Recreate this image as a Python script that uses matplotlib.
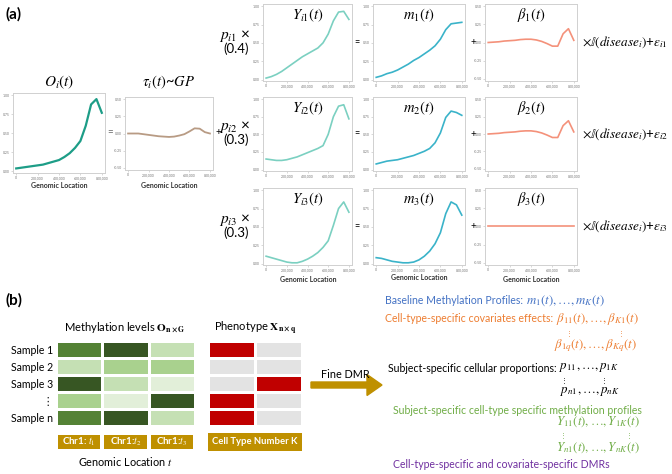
import numpy as np
import matplotlib.pyplot as plt
from matplotlib.colors import ListedColormap
from matplotlib.ticker import FuncFormatter

plt.rcParams['font.family'] = ['Lato', 'DejaVu Sans']
plt.rcParams['mathtext.fontset'] = 'stix'

W, H = 672, 474

# genomic positions (bp) where the curves were read
loc = [0, 50000, 100000, 150000, 200000, 250000, 300000, 350000, 400000,
       450000, 500000, 550000, 600000, 650000, 700000, 750000, 800000]

obs = [0.04, 0.05, 0.06, 0.07, 0.08, 0.09, 0.11, 0.13, 0.15, 0.19, 0.24, 0.31,
       0.40, 0.60, 0.88, 0.95, 0.77]
tau = [0.0, 0.0, 0.0, -0.01, -0.02, -0.03, -0.04, -0.045, -0.05, -0.045, -0.03,
       -0.01, 0.03, 0.075, 0.07, 0.02, 0.0]
y1 = [0.02, 0.04, 0.07, 0.11, 0.16, 0.21, 0.26, 0.31, 0.35, 0.39, 0.43, 0.50,
      0.62, 0.80, 0.92, 0.93, 0.82]
y2 = [0.15, 0.14, 0.13, 0.13, 0.14, 0.16, 0.18, 0.21, 0.24, 0.27, 0.30, 0.34,
      0.50, 0.75, 0.90, 0.92, 0.72]
y3 = [0.10, 0.08, 0.06, 0.04, 0.02, 0.01, 0.01, 0.03, 0.06, 0.10, 0.15, 0.22,
      0.31, 0.52, 0.75, 0.84, 0.70]
m1 = [0.03, 0.05, 0.08, 0.10, 0.13, 0.17, 0.21, 0.26, 0.30, 0.35, 0.40, 0.46,
      0.55, 0.68, 0.76, 0.77, 0.78]
m2 = [0.08, 0.10, 0.12, 0.13, 0.14, 0.16, 0.18, 0.20, 0.23, 0.26, 0.30, 0.38,
      0.52, 0.74, 0.83, 0.81, 0.77]
m3 = [0.08, 0.07, 0.05, 0.03, 0.02, 0.01, 0.01, 0.02, 0.05, 0.10, 0.17, 0.27,
      0.42, 0.68, 0.84, 0.80, 0.66]
b1 = [0.0, 0.005, 0.01, 0.02, 0.025, 0.03, 0.04, 0.045, 0.045, 0.035, 0.015,
      -0.015, -0.05, -0.05, 0.12, 0.19, 0.03]
b2 = list(b1)
b3 = [0.0] * 17

props = ['(0.4)', '(0.3)', '(0.3)']

# heatmap levels (-1 = lightest green, 3 = darkest)
meth = [[2, 3, 0],
        [0, 1, 1],
        [3, 0, -1],
        [1, -1, 3],
        [2, 3, 0]]
pheno = [[1, 0],
         [0, 0],
         [0, 1],
         [1, 0],
         [1, 0]]
samples = ['Sample 1', 'Sample 2', 'Sample 3', '⋮', 'Sample n']
loc_labels = ['Chr1: $t_1$', 'Chr1:$t_2$', 'Chr1:$t_3$']

c_obs = '#1d9d87'
c_tau = '#b89b84'
c_y = '#7bd0c1'
c_m = '#3ab3c9'
c_b = '#f4917a'
gold = '#bf9000'

fig = plt.figure(figsize=(W / 100, H / 100), dpi=100)

ov = fig.add_axes([0, 0, 1, 1])
ov.set_xlim(0, W)
ov.set_ylim(H, 0)
ov.axis('off')


def box(x0, y0, x1, y1):
    return fig.add_axes([x0 / W, 1 - y1 / H, (x1 - x0) / W, (y1 - y0) / H])


fmt = FuncFormatter(lambda v, p: f'{int(v):,}')


def panel(x0, y0, x1, y1, ys, color, centered=False, lw=1.2, title=None):
    ax = box(x0, y0, x1, y1)
    ax.plot(loc, ys, color=color, lw=lw)
    ax.set_xlim(-30000, 830000)
    ax.set_xticks([0, 200000, 400000, 600000, 800000])
    ax.xaxis.set_major_formatter(fmt)
    if centered:
        ax.set_ylim(-0.53, 0.53)
        ax.set_yticks([-0.5, -0.25, 0, 0.25, 0.5])
    else:
        ax.set_ylim(-0.02, 1.03)
        ax.set_yticks([0, 0.25, 0.5, 0.75, 1.0])
    ax.yaxis.set_major_formatter(FuncFormatter(lambda v, p: f'{v:.2f}'))
    ax.tick_params(labelsize=2.5, labelcolor='#777777', length=1.2,
                   width=0.4, color='#bbbbbb', pad=1)
    for s in ax.spines.values():
        s.set_color('#d0d0d0')
        s.set_linewidth(0.7)
    if title:
        ax.text(0.5, 0.97, title, transform=ax.transAxes, ha='center',
                va='top', fontsize=10.5)
    return ax


MFS = 9.3


def two_part(x, y, s1, s2, color, fs1=7.6, fs2=MFS):
    t = ov.text(x, y, s1, fontsize=fs1, color=color, va='center')
    ov.annotate(s2, xy=(1, 0.5), xycoords=t, fontsize=fs2, color=color,
                va='center', ha='left')


def dots(x, y, color='black'):
    ov.text(x, y, '⋮', fontsize=5, color=color, ha='center', va='center',
            family='DejaVu Sans')


def gl(x, y):
    ov.text(x, y, 'Genomic Location', fontsize=5, ha='center', va='center',
            color='#333333', fontweight='bold')


# panel (a)
ov.text(6, 14, '(a)', fontsize=11, fontweight='bold', va='center')

panel(13, 93, 105, 173, obs, c_obs, lw=1.6)
ov.text(59, 82, '$O_i(t)$', fontsize=11, ha='center', va='center')
gl(59, 185)

panel(125, 97, 213, 170, tau, c_tau, centered=True, lw=1.3)
ov.text(169, 82, r'$\tau_i(t)$~$GP$', fontsize=10.5, ha='center',
        va='center')
gl(169, 186)
ov.text(110, 133, '=', fontsize=7, ha='center', va='center', color='#666666')
ov.text(218, 133, '+', fontsize=7, ha='center', va='center')

rows = [(4, 81), (97, 171), (188, 265)]
ycurves = [y1, y2, y3]
mcurves = [m1, m2, m3]
bcurves = [b1, b2, b3]
for i, (t0, t1) in enumerate(rows):
    k = i + 1
    panel(263, t0, 352, t1, ycurves[i], c_y, title=f'$Y_{{i{k}}}(t)$')
    panel(373, t0, 465, t1, mcurves[i], c_m, title=f'$m_{{{k}}}(t)$')
    panel(485, t0, 577, t1, bcurves[i], c_b, centered=True,
          title=rf'$\beta_{{{k}}}(t)$')
    mid = (t0 + t1) / 2
    ov.text(251, mid - 7, f'$p_{{i{k}}}$' + ' ×', fontsize=11, ha='right',
            va='center')
    ov.text(249, mid + 6, props[i], fontsize=9.5, ha='right', va='center')
    ov.text(357, mid, '=', fontsize=6.5, ha='center', va='center')
    ov.text(473, mid, '+', fontsize=7, ha='center', va='center')
    ov.text(582, mid, r'$\times\mathbb{I}(disease_i)$' + '+' +
            rf'$\epsilon_{{i{k}}}$', fontsize=9.5, ha='left', va='center')

gl(308, 279)
gl(419, 278)
gl(531, 280)

# panel (b)
ov.text(6, 300, '(b)', fontsize=11, fontweight='bold', va='center')

greens = ListedColormap(['#e2efd9', '#c5e0b4', '#a9d18e', '#548235',
                         '#375623'])
reds = ListedColormap(['#e3e3e3', '#c00000'])

hm = box(56, 341, 195, 426)
hm.pcolormesh(np.array(meth) + 1, cmap=greens, vmin=-0.5, vmax=4.5,
              edgecolors='white', linewidth=1)
hm.set_ylim(5, 0)
hm.set_xticks([])
hm.set_yticks(np.arange(5) + 0.5)
hm.set_yticklabels(samples, fontsize=7.6)
hm.tick_params(length=0, pad=2)
for s in hm.spines.values():
    s.set_visible(False)

ph = box(208, 341, 302, 426)
ph.pcolormesh(np.array(pheno), cmap=reds, vmin=0, vmax=1,
              edgecolors='white', linewidth=1)
ph.set_ylim(5, 0)
ph.axis('off')

ov.text(125, 328, r'Methylation levels $\mathbf{O}_{\mathbf{n\times G}}$',
        fontsize=8, ha='center', va='center')
ov.text(255, 328, r'Phenotype $\mathbf{X}_{\mathbf{n\times q}}$',
        fontsize=8, ha='center', va='center')

lb = box(56, 433, 195, 451)
lb.pcolormesh(np.zeros((1, 3)), cmap=ListedColormap([gold]),
              edgecolors='white', linewidth=1.5)
for j, lab in enumerate(loc_labels):
    lb.text(j + 0.5, 0.5, lab, color='white', fontsize=7,
            fontweight='bold', ha='center', va='center')
lb.axis('off')

lb2 = box(208, 433, 302, 451)
lb2.pcolormesh(np.zeros((1, 1)), cmap=ListedColormap([gold]))
lb2.text(0.5, 0.5, 'Cell Type Number K', color='white', fontsize=6.8,
         fontweight='bold', ha='center', va='center')
lb2.axis('off')

ov.text(125, 461, 'Genomic Location $t$', fontsize=7.8, ha='center',
        va='center')

ov.arrow(311, 385, 56, 0, width=6, head_width=21, head_length=15,
         color=gold, length_includes_head=False)
ov.text(345, 374, 'Fine DMR', fontsize=7.8, ha='center', va='center')

blue = '#4472c4'
orange = '#ed7d31'
green = '#70ad47'
purple = '#7030a0'
two_part(385, 301, 'Baseline Methylation Profiles: ',
         r'$m_1(t),\ldots,m_K(t)$', blue)
two_part(385, 319, 'Cell-type-specific covariates effects: ',
         r'$\beta_{11}(t),\ldots,\beta_{K1}(t)$', orange)
dots(569, 333, orange)
dots(621, 333, orange)
ov.text(637, 346, r'$\beta_{1q}(t),\ldots,\beta_{Kq}(t)$', fontsize=MFS,
        color=orange, ha='right', va='center')

two_part(388, 368, 'Subject-specific cellular proportions: ',
         r'$p_{11},\ldots,p_{1K}$', 'black')
dots(564, 380)
dots(604, 380)
ov.text(620, 392, r'$p_{n1},\ldots,p_{nK}$', fontsize=MFS, ha='right',
        va='center')

ov.text(393, 410, 'Subject-specific cell-type specific methylation profiles',
        fontsize=7.6, color=green, va='center')
ov.text(640, 422, r'$Y_{11}(t),\ldots,Y_{1K}(t)$', fontsize=MFS, color=green,
        ha='right', va='center')
dots(563, 435, green)
dots(629, 435, green)
ov.text(640, 448, r'$Y_{n1}(t),\ldots,Y_{nK}(t)$', fontsize=MFS, color=green,
        ha='right', va='center')
ov.text(393, 464, 'Cell-type-specific and covariate-specific DMRs',
        fontsize=7.6, color=purple, va='center')

fig.savefig('out.png', dpi=100)
